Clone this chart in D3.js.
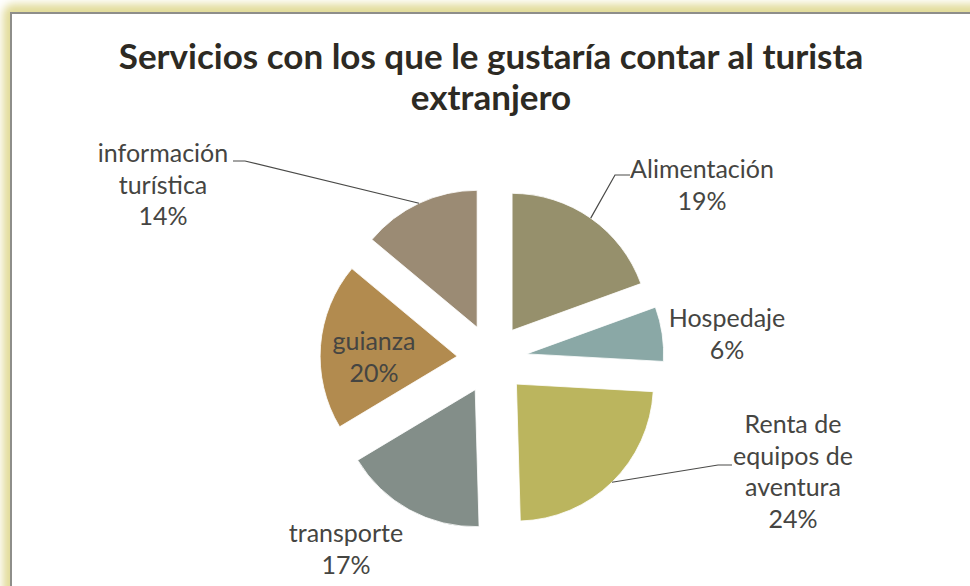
<!DOCTYPE html>
<html>
<head>
<meta charset="utf-8">
<script src="https://cdn.jsdelivr.net/npm/d3@7"></script>
<style>
  html, body { margin: 0; padding: 0; background: #fff; overflow: hidden; }
  text { font-family: Lato, "Open Sans", sans-serif; }
</style>
</head>
<body>
<div id="container"></div>
<script>
// data
let categories = ["Alimentación", "Hospedaje", "Renta de equipos de aventura", "transporte", "guianza", "información turística"];
let values = [19.4, 6.4, 23.6, 16.8, 19.6, 13.9];
let colors = ["#96906c", "#8aa8a6", "#bbb55e", "#838e89", "#b28b4f", "#9b8b74"];
let titleLines = ["Servicios con los que le gustaría contar al turista", "extranjero"];

let w = 970, h = 586;
let cx = 492, cy = 359;      // pie centre
let radius = 137;
let explode = 35;             // how far each slice is pulled out
let lineH = 31.7;

// label placement: centre x, first baseline, line breaks, leader (elbow side)
let labelLayout = [
    {x: 702, y: 178, lines: ["Alimentación"], leader: {x: 630, y: 175, dx: -15}},
    {x: 727, y: 327, lines: ["Hospedaje"]},
    {x: 793, y: 433, lines: ["Renta de", "equipos de", "aventura"], leader: {x: 732, y: 465, dx: -14}},
    {x: 346, y: 542, lines: ["transporte"]},
    {x: 374, y: 350, lines: ["guianza"]},
    {x: 163, y: 162, lines: ["información", "turística"], leader: {x: 233, y: 161, dx: 12}}
];

let svg = d3.select("div#container").append("svg")
    .attr("width", w).attr("height", h);

/*
 frame: yellow glow, grey border, white plot area running off the edges
 */
let defs = svg.append("defs");
defs.append("filter").attr("id", "glow")
    .attr("x", "-10%").attr("y", "-10%").attr("width", "120%").attr("height", "120%")
    .append("feGaussianBlur").attr("stdDeviation", 4);

svg.append("rect")
    .attr("x", 3).attr("y", 4).attr("width", 1000).attr("height", 700)
    .attr("rx", 10)
    .attr("fill", "#e2dc9a")
    .attr("filter", "url(#glow)");
svg.append("rect")
    .attr("x", 11).attr("y", 13).attr("width", 1000).attr("height", 700)
    .attr("fill", "#fff")
    .attr("stroke", "#8e8e8a")
    .attr("stroke-width", 2);

// title
svg.append("g").selectAll("text")
    .data(titleLines)
    .enter()
    .append("text")
    .attr("x", 491)
    .attr("y", (d, i) => 69 + i * 41)
    .attr("text-anchor", "middle")
    .attr("font-size", "35px")
    .attr("font-weight", "bold")
    .attr("fill", "#2d2a23")
    .text(d => d);

let total = d3.sum(values);
let pie = d3.pie().sort(null).value(d => d);
let arc = d3.arc().innerRadius(0).outerRadius(radius);
let arcs = pie(values);

let offset = (a, r) => {
    let mid = (a.startAngle + a.endAngle) / 2;
    return [Math.sin(mid) * r, -Math.cos(mid) * r];
};

let pieG = svg.append("g").attr("transform", "translate(" + cx + "," + cy + ")");

pieG.selectAll("path")
    .data(arcs)
    .enter()
    .append("path")
    .attr("d", arc)
    .attr("fill", (d, i) => colors[i])
    .attr("stroke", "#fff")
    .attr("stroke-width", 0.8)
    .attr("transform", d => "translate(" + offset(d, explode) + ")");

// leader lines, from the middle of the slice's rim to the label
arcs.forEach((d, i) => {
    let lay = labelLayout[i];
    if (!lay.leader) return;
    let o = offset(d, explode + radius);
    let rim = [cx + o[0], cy + o[1]];
    let pts = [[lay.leader.x, lay.leader.y], [lay.leader.x + lay.leader.dx, lay.leader.y], rim];
    svg.append("path")
        .attr("d", d3.line()(pts))
        .attr("fill", "none")
        .attr("stroke", "#4a4a48")
        .attr("stroke-width", 1.2);
});

// labels
let labG = svg.append("g");
arcs.forEach((d, i) => {
    let lay = labelLayout[i];
    let lines = lay.lines.concat([Math.round(values[i] / total * 100) + "%"]);
    labG.append("text")
        .attr("text-anchor", "middle")
        .attr("font-size", "25px")
        .attr("fill", "#454542")
        .selectAll("tspan")
        .data(lines)
        .enter()
        .append("tspan")
        .attr("x", lay.x)
        .attr("y", (t, j) => lay.y + j * lineH)
        .text(t => t);
});
</script>
</body>
</html>
